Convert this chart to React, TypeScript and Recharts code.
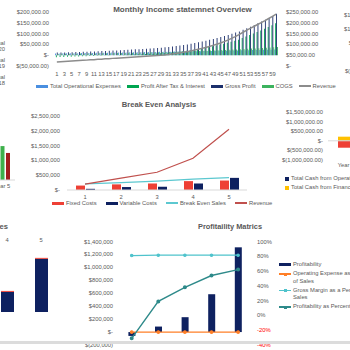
import React from 'react';
import { ComposedChart, Bar, Line, XAxis, YAxis, Legend, ReferenceLine } from 'recharts';

const FONT = '"Liberation Sans", Arial, Helvetica, sans-serif';
const GREY = '#595959';
const TICK = { fontSize: 5.8, fill: GREY, fontFamily: FONT };

// ---------- Monthly income statement overview ----------
const months = [
  1, 2, 3, 4, 5, 6, 7, 8, 9, 10, 11, 12, 13, 14, 15, 16, 17, 18, 19, 20,
  21, 22, 23, 24, 25, 26, 27, 28, 29, 30, 31, 32, 33, 34, 35, 36, 37, 38, 39, 40,
  41, 42, 43, 44, 45, 46, 47, 48, 49, 50, 51, 52, 53, 54, 55, 56, 57, 58, 59, 60,
];
const operationalExpenses = [
  8000, 8200, 8500, 8700, 9000, 9300, 9500, 9800, 10100, 10300,
  10600, 10900, 11100, 11400, 11700, 12000, 12200, 12500, 12800, 13000,
  13300, 13600, 13900, 14100, 14400, 14700, 15000, 15200, 15500, 15800,
  16100, 16400, 16700, 17000, 17300, 17600, 17900, 18200, 18500, 18800,
  19100, 19400, 19800, 20100, 20400, 20800, 21100, 21500, 21800, 22200,
  22500, 22900, 23300, 23600, 24000, 24400, 24800, 25200, 25600, 26000,
];
const profitAfterTax = [
  -9000, -8500, -8000, -7500, -7000, -6400, -5800, -5200, -4600, -4000,
  -3400, -2800, -2200, -1600, -1000, -400, 200, 800, 1400, 2000,
  2700, 3400, 4100, 4800, 5600, 6400, 7200, 8100, 9000, 10000,
  11200, 12600, 14200, 16000, 18000, 20200, 22600, 25200, 28000, 31000,
  34200, 37600, 41200, 45000, 49000, 53200, 57600, 62200, 67000, 72000,
  80000, 86000, 93000, 100000, 107000, 114000, 122000, 130000, 139000, 148000,
];
const grossProfit = [
  12000, 12500, 13000, 13500, 14000, 14500, 15000, 15600, 16200, 16800,
  17500, 18200, 19000, 19800, 20600, 21400, 22300, 23200, 24100, 25000,
  26000, 27000, 28000, 29100, 30200, 31300, 32500, 33700, 35000, 36300,
  38000, 40000, 42200, 44600, 47200, 50000, 53000, 56200, 59600, 63200,
  67000, 71000, 75200, 79600, 84200, 89000, 94000, 99200, 104600, 110200,
  118000, 125000, 132000, 140000, 148000, 156000, 164000, 172000, 182000, 192000,
];
const cogs = [
  6000, 6200, 6400, 6600, 6800, 7000, 7300, 7500, 7800, 8000,
  8300, 8600, 8800, 9100, 9400, 9700, 10000, 10300, 10600, 11000,
  11300, 11700, 12000, 12400, 12800, 13200, 13600, 14000, 14400, 14900,
  15300, 15800, 16300, 16800, 17300, 17800, 18400, 19000, 19600, 20200,
  20800, 21500, 22200, 22900, 23600, 24400, 25200, 26000, 26800, 27700,
  28600, 29500, 30500, 31500, 32500, 33600, 34700, 35800, 37000, 38200,
];
const revenue = [
  18000, 19200, 20300, 21500, 22600, 23800, 24900, 26100, 27200, 28400,
  29500, 30700, 31800, 33000, 34100, 35300, 36400, 37600, 38700, 39900,
  41000, 42200, 43300, 44500, 45600, 46800, 47900, 49100, 50200, 51400,
  53000, 55200, 57600, 60300, 63200, 66400, 69800, 73500, 77400, 81600,
  86000, 90700, 95600, 100800, 106200, 113000, 120000, 128000, 136000, 145000,
  155000, 165000, 174000, 183000, 192000, 201000, 210000, 220000, 230000, 240000,
];
const monthlyLeftTicks = [-50000, 0, 50000, 100000, 150000, 200000];
const monthlyRightTicks = [0, 50000, 100000, 150000, 200000, 250000];

// ---------- Break even analysis ----------
const beYears = ['1', '2', '3', '4', '5'];
const fixedCosts = [150000, 190000, 220000, 300000, 320000];
const variableCosts = [40000, 100000, 110000, 220000, 410000];
const breakEvenSales = [210000, 250000, 300000, 370000, 420000];
const beRevenue = [200000, 400000, 600000, 1070000, 2050000];
const beTicks = [0, 500000, 1000000, 1500000, 2000000, 2500000];

// ---------- Profitability matrics ----------
const pmYears = ['Year 1', 'Year 2', 'Year 3', 'Year 4', 'Year 5'];
const profitability = [-60000, 85000, 230000, 585000, 1310000];
const opexPctOfSales = [0.28, 0.22, 0.2, 0.18, 0.17];
const grossMarginPct = [0.81, 0.815, 0.815, 0.815, 0.815];
const profitabilityPct = [-0.31, 0.19, 0.38, 0.54, 0.62];
const pmMoneyTicks = [-200000, 0, 200000, 400000, 600000, 800000, 1000000, 1200000, 1400000];
const pmPctTicks = [-0.4, -0.2, 0, 0.2, 0.4, 0.6, 0.8, 1];

// ---------- Cash flow (cut off at the right) ----------
const cfYears = ['Year 1', 'Year 2', 'Year 3', 'Year 4', 'Year 5'];
const cashOperating = [15000, 260000, 420000, 700000, 1150000];
const cashInvesting = [-360000, -120000, -150000, -180000, -220000];
const cashFinancing = [200000, -50000, -60000, -80000, -100000];
const cfTicks = [-1000000, -500000, 0, 500000, 1000000, 1500000];
const edgeTicks = [-500000, 0, 500000, 1000000, 1500000];

// ---------- Yearly actuals (cut off at the left) ----------
const actualYears = ['Year 1', 'Year 2', 'Year 3', 'Year 4', 'Year 5'];
const actual2018 = [120000, 150000, 180000, 200000, 230000];
const actual2019 = [110000, 140000, 170000, 190000, 212000];
const actual2020 = [90000, 110000, 130000, 150000, 169000];

// ---------- Cost bars (cut off at the bottom left) ----------
const costYears = ['1', '2', '3', '4', '5'];
const costVariable = [120000, 200000, 300000, 450000, 1190000];
const costFixed = [20000, 20000, 20000, 22000, 22000];

const money = (v: number, dp = 0) => {
  if (v === 0) return '$-';
  const s = Math.abs(v).toLocaleString('en-US', { minimumFractionDigits: dp, maximumFractionDigits: dp });
  return v < 0 ? `$(${s})` : `$${s}`;
};

type Key = { name: string; color: string; mark: 'thick' | 'thin' | 'dot' | 'square' };

const Marker = ({ k }: { k: Key }) => {
  if (k.mark === 'square') {
    return <span style={{ display: 'inline-block', width: 4, height: 4, background: k.color, marginRight: 2, flex: 'none' }} />;
  }
  return (
    <span style={{ position: 'relative', display: 'inline-block', width: 12, height: 4, marginRight: 2, flex: 'none' }}>
      <span style={{ position: 'absolute', left: 0, right: 0, top: k.mark === 'thick' ? 0.5 : 1.4, height: k.mark === 'thick' ? 3 : 1.2, background: k.color }} />
      {k.mark === 'dot' && <span style={{ position: 'absolute', left: 4.5, top: 0.5, width: 3, height: 3, background: k.color }} />}
    </span>
  );
};

const rowLegend = (keys: Key[], padLeft: number, gap: number) => () => (
  <div style={{ display: 'flex', paddingLeft: padLeft, gap, fontSize: 5.8, color: GREY, fontFamily: FONT, lineHeight: '8px', whiteSpace: 'nowrap' }}>
    {keys.map((k) => (
      <span key={k.name} style={{ display: 'flex', alignItems: 'center' }}>
        <Marker k={k} />
        {k.name}
      </span>
    ))}
  </div>
);

const columnLegend = (keys: Key[], textWidth: number, gap: number, lineHeight: number, align: 'left' | 'right' = 'left') => () => (
  <div style={{ display: 'flex', flexDirection: 'column', gap, fontSize: 5.8, color: GREY, fontFamily: FONT, lineHeight: `${lineHeight}px` }}>
    {keys.map((k) => (
      <div key={k.name} style={{ display: 'flex', alignItems: 'flex-start' }}>
        <span style={{ marginTop: (lineHeight - 4) / 2, display: 'flex' }}>
          <Marker k={k} />
        </span>
        <span style={{ width: textWidth, textAlign: align, flex: 'none' }}>{k.name}</span>
      </div>
    ))}
  </div>
);

const monthlyKeys: Key[] = [
  { name: 'Total Operational Expenses', color: '#4A8FE0', mark: 'thick' },
  { name: 'Profit After Tax & Interest', color: '#00A550', mark: 'thick' },
  { name: 'Gross Profit', color: '#1C2F6B', mark: 'thick' },
  { name: 'COGS', color: '#3CB35E', mark: 'thick' },
  { name: 'Revenue', color: '#8C8C8C', mark: 'thin' },
];
const beKeys: Key[] = [
  { name: 'Fixed Costs', color: '#EE4035', mark: 'thick' },
  { name: 'Variable Costs', color: '#0E2160', mark: 'thick' },
  { name: 'Break Even Sales', color: '#5CC8D0', mark: 'thin' },
  { name: 'Revenue', color: '#C0504D', mark: 'thin' },
];
const pmKeys: Key[] = [
  { name: 'Profitability', color: '#0E2160', mark: 'thick' },
  { name: 'Operating Expense as a Percentage of Sales', color: '#FF7F27', mark: 'dot' },
  { name: 'Gross Margin as a Percentage of Sales', color: '#4FC3CC', mark: 'dot' },
  { name: 'Profitability as Percentage', color: '#2E8A8A', mark: 'dot' },
];
const cfKeys: Key[] = [
  { name: 'Total Cash from Operating Activities', color: '#0E2160', mark: 'square' },
  { name: 'Total Cash from Financing Activities', color: '#FFC000', mark: 'square' },
];
const actualKeys: Key[] = [
  { name: 'Actual 2020', color: '#A11D1D', mark: 'thick' },
  { name: 'Actual 2019', color: '#3DB04B', mark: 'thick' },
  { name: 'Actual 2018', color: '#4472C4', mark: 'thick' },
];

const PctTick = (props: any) => {
  const { x, y, payload } = props;
  const v = Math.round(payload.value * 100);
  return (
    <text x={x} y={y} dy="0.35em" textAnchor="start" fontSize={5.8} fontFamily={FONT} fill={v < 0 ? '#FF0000' : GREY}>
      {v}%
    </text>
  );
};

const Title = ({ text, left, top, width, size, align = 'center' }: any) => (
  <div style={{ position: 'absolute', left, top, width, textAlign: align, fontSize: size, fontWeight: 700, color: GREY, fontFamily: FONT, whiteSpace: 'nowrap' }}>
    {text}
  </div>
);

const at = (left: number, top: number): React.CSSProperties => ({ position: 'absolute', left, top });

export default function App() {
  const monthlyRows = months.map((m, i) => ({
    month: m,
    opex: operationalExpenses[i],
    profit: profitAfterTax[i],
    gross: grossProfit[i],
    cogs: cogs[i],
    revenue: revenue[i],
  }));
  const beRows = beYears.map((y, i) => ({ year: y, fixed: fixedCosts[i], variable: variableCosts[i], be: breakEvenSales[i], revenue: beRevenue[i] }));
  const pmRows = pmYears.map((y, i) => ({ year: y, profit: profitability[i], opexPct: opexPctOfSales[i], gm: grossMarginPct[i], pp: profitabilityPct[i] }));
  const cfRows = cfYears.map((y, i) => ({ year: y, op: cashOperating[i], inv: cashInvesting[i], fin: cashFinancing[i] }));
  const actualRows = actualYears.map((y, i) => ({ year: y, a18: actual2018[i], a19: actual2019[i], a20: actual2020[i] }));
  const costRows = costYears.map((y, i) => ({ year: y, variable: costVariable[i], fixed: costFixed[i] }));

  return (
    <div style={{ position: 'fixed', left: 0, top: 0, width: 350, height: 350, overflow: 'hidden', background: '#fff', fontFamily: FONT }}>
      {/* yearly actuals, mostly off the left edge */}
      <div style={at(-200, 0)}>
        <ComposedChart width={220} height={195} data={actualRows} margin={{ top: 20, right: 5, bottom: 0, left: 85 }} barGap={1.5}>
          <XAxis dataKey="year" height={15} tick={TICK} tickLine={false} tickSize={0} tickMargin={4} axisLine={{ stroke: '#d9d9d9' }} />
          <YAxis hide domain={[0, 1000000]} />
          <Bar dataKey="a18" name="Actual 2018" fill="#4472C4" barSize={4} isAnimationActive={false} />
          <Bar dataKey="a19" name="Actual 2019" fill="#3DB04B" barSize={4} isAnimationActive={false} />
          <Bar dataKey="a20" name="Actual 2020" fill="#A11D1D" barSize={4} isAnimationActive={false} />
          <Legend verticalAlign="middle" align="center" layout="horizontal" wrapperStyle={{ top: 40, left: 170, width: 40 }} content={columnLegend(actualKeys, 21, 4.6, 6.2, 'right')} />
        </ComposedChart>
      </div>

      {/* monthly overview */}
      <Title text="Monthly Income statemnet Overview" left={90} top={5} width={185} size={8} />
      <div style={at(0, 0)}>
        <ComposedChart width={350} height={95} data={monthlyRows} margin={{ top: 12, right: 0, bottom: 15, left: 0 }} barGap={0} barCategoryGap={0}>
          <XAxis dataKey="month" height={14} interval={1} tick={TICK} tickLine={false} tickSize={0} tickMargin={6} axisLine={false} />
          <YAxis yAxisId="left" width={55} domain={[-50000, 200000]} ticks={monthlyLeftTicks} interval={0} tickFormatter={(v) => money(v, 2)} tick={TICK} tickLine={false} tickSize={0} tickMargin={6} axisLine={false} />
          <YAxis yAxisId="right" orientation="right" width={72} domain={[0, 250000]} ticks={monthlyRightTicks} interval={0} tickFormatter={(v) => money(v, 2)} tick={TICK} tickLine={false} tickSize={0} tickMargin={8} axisLine={false} />
          <Bar yAxisId="left" dataKey="opex" name="Total Operational Expenses" fill="#4A8FE0" barSize={0.9} isAnimationActive={false} />
          <Bar yAxisId="left" dataKey="profit" name="Profit After Tax & Interest" fill="#00A550" barSize={0.9} isAnimationActive={false} />
          <Bar yAxisId="left" dataKey="gross" name="Gross Profit" fill="#1C2F6B" barSize={0.9} isAnimationActive={false} />
          <Bar yAxisId="left" dataKey="cogs" name="COGS" fill="#3CB35E" barSize={0.9} isAnimationActive={false} />
          <Line yAxisId="right" dataKey="revenue" name="Revenue" stroke="#8C8C8C" strokeWidth={1.5} dot={false} isAnimationActive={false} />
          <Legend verticalAlign="middle" align="center" layout="horizontal" wrapperStyle={{ top: 82, left: 0, width: 350 }} content={rowLegend(monthlyKeys, 36, 6)} />
        </ComposedChart>
      </div>

      {/* edge of another chart, top right */}
      <div style={at(330, 0)}>
        <ComposedChart width={120} height={100} data={cfRows} margin={{ top: 15, right: 5, bottom: 29, left: 0 }}>
          <XAxis dataKey="year" hide />
          <YAxis width={57} domain={[-500000, 1500000]} ticks={edgeTicks} interval={0} tickFormatter={(v) => money(v, 2)} tick={TICK} tickLine={false} tickSize={0} tickMargin={6} axisLine={false} />
          <Bar dataKey="op" fill="#0E2160" barSize={8} isAnimationActive={false} />
        </ComposedChart>
      </div>

      {/* break even analysis */}
      <Title text="Break Even Analysis" left={100} top={100} width={118} size={7.6} />
      <div style={at(0, 100)}>
        <ComposedChart width={262} height={112} data={beRows} margin={{ top: 16, right: 15, bottom: 8, left: 0 }} barGap={1}>
          <XAxis dataKey="year" height={14} tick={TICK} tickLine={false} tickSize={0} tickMargin={5} axisLine={{ stroke: '#d9d9d9' }} />
          <YAxis width={67} domain={[0, 2500000]} ticks={beTicks} interval={0} tickFormatter={(v) => money(v)} tick={TICK} tickLine={false} tickSize={0} tickMargin={7} axisLine={false} />
          <Bar dataKey="fixed" name="Fixed Costs" fill="#EE4035" barSize={9} isAnimationActive={false} />
          <Bar dataKey="variable" name="Variable Costs" fill="#0E2160" barSize={9} isAnimationActive={false} />
          <Line dataKey="be" name="Break Even Sales" stroke="#5CC8D0" strokeWidth={1.2} dot={false} isAnimationActive={false} />
          <Line dataKey="revenue" name="Revenue" stroke="#C0504D" strokeWidth={1.2} dot={false} isAnimationActive={false} />
          <Legend verticalAlign="middle" align="center" layout="horizontal" wrapperStyle={{ top: 99, left: 0, width: 262 }} content={rowLegend(beKeys, 52, 9)} />
        </ComposedChart>
      </div>

      {/* cash flow, cut off at right */}
      <div style={at(280, 100)}>
        <ComposedChart width={260} height={100} data={cfRows} margin={{ top: 12, right: 32, bottom: 28, left: 0 }} stackOffset="sign">
          <XAxis dataKey="year" height={12} tick={TICK} tickLine={false} tickSize={0} tickMargin={3} axisLine={false} />
          <YAxis width={48} domain={[-1000000, 1500000]} ticks={cfTicks} interval={0} tickFormatter={(v) => money(v, 2)} tick={TICK} tickLine={false} tickSize={0} tickMargin={5} axisLine={false} />
          <ReferenceLine y={0} stroke="#d9d9d9" />
          <Bar dataKey="op" name="Total Cash from Operating Activities" stackId="cf" fill="#0E2160" barSize={16} isAnimationActive={false} />
          <Bar dataKey="inv" name="Total Cash from Investing Activities" stackId="cf" fill="#EE4035" barSize={16} isAnimationActive={false} />
          <Bar dataKey="fin" name="Total Cash from Financing Activities" stackId="cf" fill="#FFC000" barSize={16} isAnimationActive={false} />
          <Legend verticalAlign="middle" align="center" layout="horizontal" wrapperStyle={{ top: 75, left: 5, width: 200 }} content={columnLegend(cfKeys, 180, 1.6, 7.4)} />
        </ComposedChart>
      </div>

      {/* cost bars, cut off at bottom left */}
      <Title text="Expenses" left={-60} top={222} width={68} size={7.6} align="right" />
      <div style={at(-130, 226)}>
        <ComposedChart width={190} height={90} data={costRows} margin={{ top: 0, right: 2, bottom: 4, left: 18 }}>
          <XAxis dataKey="year" orientation="top" height={19} tick={TICK} tickLine={false} tickSize={0} tickMargin={3} axisLine={false} />
          <YAxis hide domain={[0, 1500000]} />
          <Bar dataKey="variable" stackId="c" fill="#0E2160" barSize={13} isAnimationActive={false} />
          <Bar dataKey="fixed" stackId="c" fill="#EE4035" barSize={13} isAnimationActive={false} />
        </ComposedChart>
      </div>

      {/* profitability matrics */}
      <Title text="Profitaility Matrics" left={175} top={222} width={110} size={7.4} />
      <div style={at(60, 226)}>
        <ComposedChart width={290} height={124} data={pmRows} margin={{ top: 15.5, right: 58.6, bottom: 5, left: 0 }}>
          <XAxis dataKey="year" hide />
          <YAxis yAxisId="money" width={58.4} domain={[-200000, 1400000]} ticks={pmMoneyTicks} interval={0} tickFormatter={(v) => money(v)} tick={TICK} tickLine={false} tickSize={0} tickMargin={5.4} axisLine={false} />
          <YAxis yAxisId="pct" orientation="right" width={40} domain={[-0.4, 1]} ticks={pmPctTicks} interval={0} tick={<PctTick />} tickLine={false} tickSize={0} tickMargin={5.6} axisLine={false} />
          <Bar yAxisId="money" dataKey="profit" name="Profitability" fill="#0E2160" barSize={7} isAnimationActive={false} />
          <Line yAxisId="money" dataKey="opexPct" name="Operating Expense as a Percentage of Sales" stroke="#FF7F27" strokeWidth={1.2} dot={{ r: 1.3, fill: '#FF7F27', stroke: '#FF7F27' }} isAnimationActive={false} />
          <Line yAxisId="pct" dataKey="gm" name="Gross Margin as a Percentage of Sales" stroke="#4FC3CC" strokeWidth={1.2} dot={{ r: 1.2, fill: '#4FC3CC', stroke: '#4FC3CC' }} isAnimationActive={false} />
          <Line yAxisId="pct" dataKey="pp" name="Profitability as Percentage" stroke="#2E8A8A" strokeWidth={1.4} dot={{ r: 1.3, fill: '#2E8A8A', stroke: '#2E8A8A' }} isAnimationActive={false} />
          <Legend verticalAlign="middle" align="center" layout="horizontal" wrapperStyle={{ top: 35.3, left: 219, width: 130 }} content={columnLegend(pmKeys, 96, 1.7, 7.4)} />
        </ComposedChart>
      </div>

      <div style={{ position: 'absolute', left: 0, top: 341, width: 350, height: 3, background: '#dcdcdc' }} />
    </div>
  );
}
